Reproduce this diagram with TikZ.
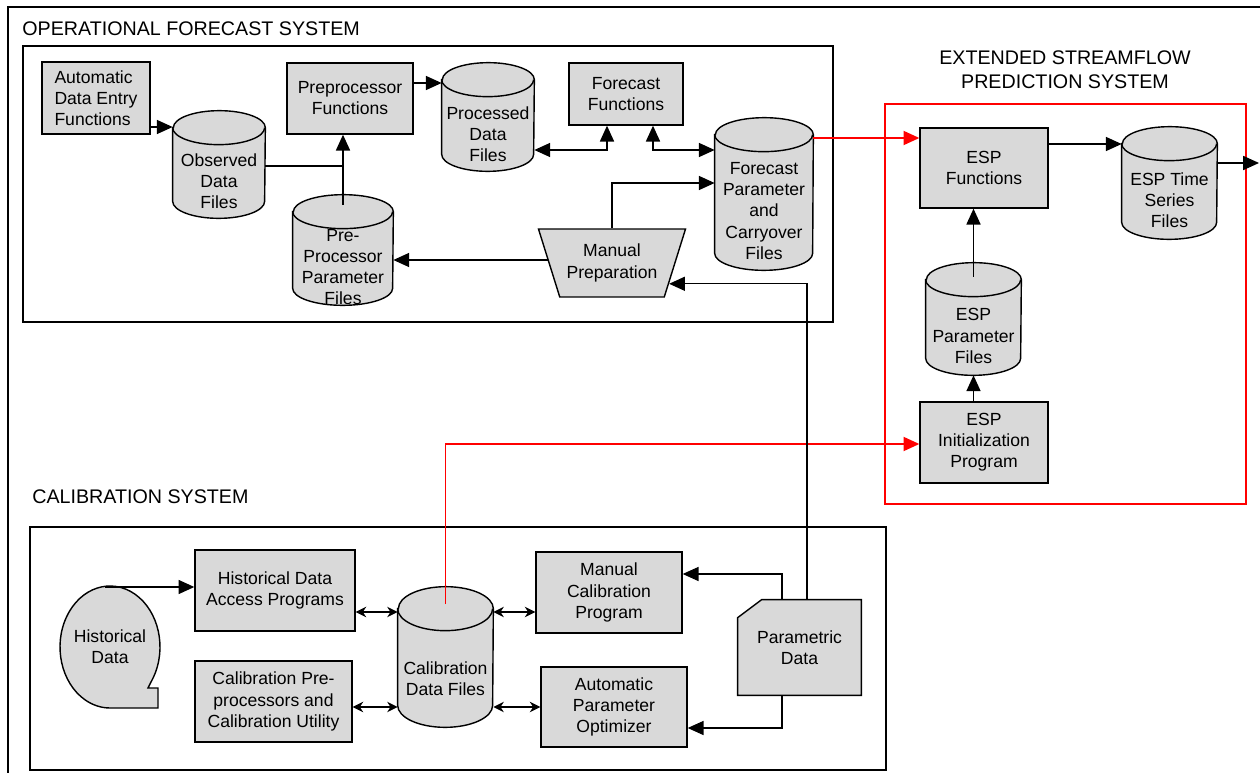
\documentclass[tikz,border=0pt]{standalone}
\usepackage{fontspec}
\setmainfont{Liberation Sans}
\usetikzlibrary{shapes.geometric,arrows.meta}
\pgfdeclarelayer{background}
\pgfsetlayers{background,main}

% drum outline behind a data file node: node, half width, ellipse half height
\newcommand{\datadrum}[3]{%
	\begin{pgfonlayer}{background}
		\filldraw[greyfill] ([yshift=#3]#1.north west) -- ([yshift=#3]#1.south west)
			arc[start angle=180,end angle=360,x radius=#2,y radius=#3]
			-- ([yshift=#3]#1.north east)
			arc[start angle=0,end angle=180,x radius=#2,y radius=#3] -- cycle;
		\draw[line width=0.8pt] ([yshift=#3]#1.north west)
			arc[start angle=180,end angle=360,x radius=#2,y radius=#3];
	\end{pgfonlayer}}
% card outline with cut corner: node, cut width, cut height
\newcommand{\punchcard}[3]{%
	\begin{pgfonlayer}{background}
		\filldraw[greyfill] ([xshift=#2]#1.north west) -- (#1.north east) -- (#1.south east)
			-- (#1.south west) -- ([yshift=-#3]#1.north west) -- cycle;
	\end{pgfonlayer}}

\begin{document}
\begin{tikzpicture}[x=0.02cm,y=-0.02cm,
	font=\fontsize{10}{12}\selectfont,
	greyfill/.style={draw,fill=black!15,line width=0.8pt},
	prog/.style={greyfill,rectangle,align=center,inner sep=1pt},
	drum/.style={rectangle,align=center,inner sep=0pt},
	flow/.style={line width=0.8pt,-{Triangle[length=9pt,width=8pt]}},
	twoway/.style={line width=0.8pt,{Triangle[length=9pt,width=8pt]}-{Triangle[length=9pt,width=8pt]}},
	espflow/.style={flow,red,line width=1pt},
	exch/.style={line width=0.6pt,{Stealth[length=6pt,width=6pt]}-{Stealth[length=6pt,width=6pt]}},
	link/.style={line width=0.6pt},
	systitle/.style={font=\fontsize{11.2}{13.4}\selectfont,align=center,inner sep=0pt}]
	\useasboundingbox (0,0) rectangle (1260,773);
	\draw[line width=1.5pt] (8,773) -- (8,7) -- (1260,7);

	% operational forecast system
	\node[systitle,anchor=west] (opstitle) at (22,29) {OPERATIONAL FORECAST SYSTEM};
	\draw[line width=0.8pt] (23,46) rectangle (833,322);
	\node[prog,align=left,minimum width=2.16cm,minimum height=1.44cm] (autoentry) at (96,98) {Automatic\\Data Entry\\Functions};
	\node[drum,minimum width=1.84cm,minimum height=1.46cm] (obsfiles) at (219,181.5) {Observed\\Data\\Files};
	\datadrum{obsfiles}{0.92cm}{0.34cm}
	\node[prog,minimum width=2.52cm,minimum height=1.42cm] (preproc) at (350,98.5) {Preprocessor\\Functions};
	\node[drum,minimum width=2cm,minimum height=1.52cm] (ppparam) at (343,267) {Pre-\\Processor\\Parameter\\Files};
	\datadrum{ppparam}{1cm}{0.34cm}
	\node[drum,minimum width=1.84cm,minimum height=1.48cm] (procfiles) at (488,134) {Processed\\Data\\Files};
	\datadrum{procfiles}{0.92cm}{0.34cm}
	\node[prog,minimum width=2.28cm,minimum height=1.24cm] (fcstfn) at (626,94) {Forecast\\Functions};
	\node[drum,minimum width=1.96cm,minimum height=2.36cm] (fcstparam) at (764,211) {Forecast\\Parameter\\and\\Carryover\\Files};
	\datadrum{fcstparam}{0.98cm}{0.34cm}
	\node[greyfill,trapezium,trapezium angle=67,trapezium stretches=true,shape border rotate=180,align=center,minimum width=2.96cm,minimum height=1.36cm] (manprep) at (612,263) {Manual\\Preparation};

	% extended streamflow prediction system
	\node[systitle] (esptitle) at (1065,70) {EXTENDED STREAMFLOW\\PREDICTION SYSTEM};
	\draw[red,line width=1pt] (885,104) rectangle (1246,504);
	\node[prog,minimum width=2.56cm,minimum height=1.6cm] (espfn) at (984,168) {ESP\\Functions};
	\node[drum,minimum width=1.9cm,minimum height=1.56cm] (esptime) at (1169.5,200) {ESP Time\\Series\\Files};
	\datadrum{esptime}{0.95cm}{0.34cm}
	\node[drum,minimum width=1.9cm,minimum height=1.56cm] (espparam) at (973.5,336) {ESP\\Parameter\\Files};
	\datadrum{espparam}{0.95cm}{0.34cm}
	\node[prog,minimum width=2.56cm,minimum height=1.62cm] (espinit) at (984,442.5) {ESP\\Initialization\\Program};
	\coordinate (espout) at (1259,163);

	% calibration system
	\node[systitle,anchor=west] (caltitle) at (32,497) {CALIBRATION SYSTEM};
	\draw[line width=0.8pt] (30,527) rectangle (886,770);
	\filldraw[greyfill] (158,708) -- (158,688) -- (148,688) -- (153.3,677.5)
		arc[start angle=-30,end angle=270,x radius=1cm,y radius=1.22cm] -- cycle;
	\node[align=center] (histdata) at (110,647) {Historical\\Data};
	\coordinate (histtop) at (105,587);
	\node[prog,minimum width=3.2cm,minimum height=1.62cm] (histacc) at (275,590.5) {Historical Data\\Access Programs};
	\node[prog,minimum width=3.14cm,minimum height=1.62cm] (calpre) at (273.5,701.5) {Calibration Pre-\\processors and\\Calibration Utility};
	\node[drum,minimum width=1.9cm,minimum height=1.92cm] (caldata) at (445.5,679) {Calibration\\Data Files};
	\datadrum{caldata}{0.95cm}{0.44cm}
	\node[prog,minimum width=2.92cm,minimum height=1.62cm] (mancal) at (609,592.5) {Manual\\Calibration\\Program};
	\node[prog,minimum width=2.92cm,minimum height=1.6cm] (autoopt) at (614,707) {Automatic\\Parameter\\Optimizer};
	\node[drum,minimum width=2.46cm,minimum height=1.9cm] (paramdata) at (799.5,647.5) {Parametric\\Data};
	\punchcard{paramdata}{0.48cm}{0.36cm}

	% connectors
	\draw[flow] (autoentry.east |- 0,127) -- (obsfiles.west |- 0,127);
	\draw[link] (obsfiles.east |- 0,166) -- (ppparam.center |- 0,166);
	\draw[flow] (ppparam.center |- 0,205) -- (ppparam.center |- preproc.south);
	\draw[flow] (preproc.east |- 0,83) -- (procfiles.west |- 0,83);
	\draw[twoway] (procfiles.east |- 0,150) -| (fcstfn.south -| 607,0);
	\draw[twoway] (fcstfn.south -| 653,0) |- (fcstparam.west |- 0,150);
	\draw[flow] (manprep.north) |- (fcstparam.west |- 0,183);
	\draw[flow] (manprep.west |- 0,260) -- (ppparam.east |- 0,260);
	\draw[espflow] (fcstparam.east |- 0,138) -- (espfn.west |- 0,138);
	\draw[flow] (espfn.east |- 0,144) -- (esptime.west |- 0,144);
	\draw[flow] (esptime.east |- espout) -- (espout);
	\draw[flow] (espparam.center |- 0,277) -- (espparam.center |- espfn.south);
	\draw[flow] (espparam.center |- espinit.north) -- (espparam.south);
	\draw[espflow] (caldata.center |- 0,604) |- (espinit.west |- 0,444);
	\draw[flow] (paramdata.north -| 807,0) |- (manprep.-20);
	\draw[flow] (histtop) -- (histacc.west |- histtop);
	\draw[exch] (histacc.east |- 0,612) -- (caldata.west |- 0,612);
	\draw[exch] (calpre.east |- 0,707) -- (caldata.west |- 0,707);
	\draw[exch] (caldata.east |- 0,612) -- (mancal.west |- 0,612);
	\draw[exch] (caldata.east |- 0,707) -- (autoopt.west |- 0,707);
	\draw[link,-{Triangle[length=9pt,width=8pt]}] (paramdata.north -| 782,0) |- (mancal.east |- 0,574);
	\draw[link,-{Triangle[length=9pt,width=8pt]}] (paramdata.south -| 782,0) |- (autoopt.east |- 0,728);
\end{tikzpicture}
\end{document}
